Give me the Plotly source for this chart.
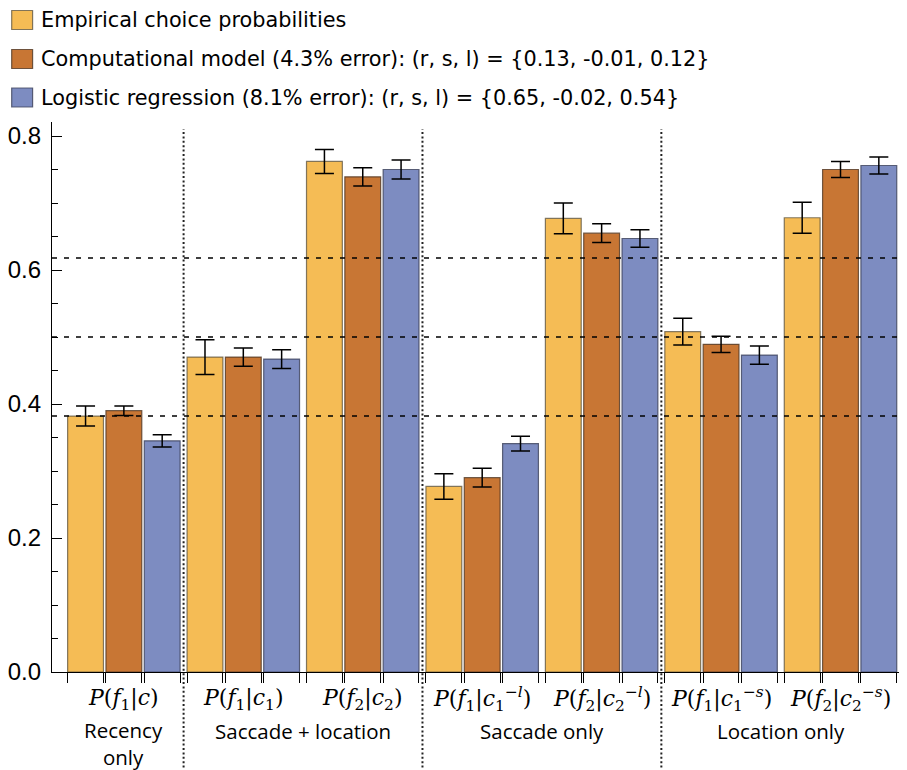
import plotly.graph_objects as go

# ---------------- data ----------------
category_labels = [
    "<i>P</i>(<i>f</i><sub>1</sub>|<i>c</i>)",
    "<i>P</i>(<i>f</i><sub>1</sub>|<i>c</i><sub>1</sub>)",
    "<i>P</i>(<i>f</i><sub>2</sub>|<i>c</i><sub>2</sub>)",
    "<i>P</i>(<i>f</i><sub>1</sub>|<i>c</i><sub>1</sub><sup>−<i>l</i></sup>)",
    "<i>P</i>(<i>f</i><sub>2</sub>|<i>c</i><sub>2</sub><sup>−<i>l</i></sup>)",
    "<i>P</i>(<i>f</i><sub>1</sub>|<i>c</i><sub>1</sub><sup>−<i>s</i></sup>)",
    "<i>P</i>(<i>f</i><sub>2</sub>|<i>c</i><sub>2</sub><sup>−<i>s</i></sup>)",
]
section_names = ["Recency<br>only", "Saccade + location", "Saccade only", "Location only"]
section_sizes = [1, 2, 2, 2]

series_names = [
    "Empirical choice probabilities",
    "Computational model (4.3% error): (r, s, l) = {0.13, -0.01, 0.12}",
    "Logistic regression (8.1% error): (r, s, l) = {0.65, -0.02, 0.54}",
]
empirical = [0.382, 0.470, 0.762, 0.277, 0.677, 0.508, 0.678]
empirical_err = [0.015, 0.026, 0.018, 0.019, 0.023, 0.020, 0.023]
model = [0.390, 0.470, 0.739, 0.290, 0.655, 0.489, 0.750]
model_err = [0.007, 0.0135, 0.0135, 0.014, 0.014, 0.012, 0.012]
logistic = [0.345, 0.467, 0.750, 0.341, 0.647, 0.473, 0.756]
logistic_err = [0.009, 0.014, 0.014, 0.011, 0.013, 0.0137, 0.0127]
reference_levels = [0.382, 0.5, 0.618]

y_ticks = [0.0, 0.2, 0.4, 0.6, 0.8]
colors = ["#F5BC55", "#C87634", "#7D8CC1"]
edge_colors = ["rgba(90,80,60,0.75)", "rgba(80,55,35,0.8)", "rgba(60,65,90,0.8)"]

# ---------------- layout constants ----------------
OFF = 8  # page body margin
W, H = 907 - OFF, 770 - OFF
ML, MR, MT, MB = 40, 0, 114, 98
PW, PH = W - ML - MR, H - MT - MB
BARGAP = 0.0375
BARGROUPGAP = 0.065

xs = list(range(len(category_labels)))
x_range = [-0.6017, 6.5567]
y_range = [0, 0.8209]

def px_x(p):
    return (p - OFF - ML) / PW

def px_y(p):
    return (H - MB - (p - OFF)) / PH

fig = go.Figure()
all_vals = [empirical, model, logistic]
all_errs = [empirical_err, model_err, logistic_err]
for i in range(3):
    fig.add_trace(go.Bar(
        x=xs, y=all_vals[i], name=series_names[i],
        marker=dict(color=colors[i], line=dict(color=edge_colors[i], width=1.2)),
        error_y=dict(type="data", array=all_errs[i], visible=True,
                     color="black", thickness=1.5, width=9.5),
        showlegend=False,
    ))

# tick marks at bar edges
n_series = 3
slot = (1 - BARGAP) / n_series
bar_w = slot * (1 - BARGROUPGAP)
edge_ticks = []
for k in xs:
    for j in range(n_series):
        c = k + (j - (n_series - 1) / 2) * slot
        edge_ticks += [c - bar_w / 2, c + bar_w / 2]

fig.update_layout(
    width=W, height=H,
    margin=dict(l=ML, r=MR, t=MT, b=MB, pad=0),
    paper_bgcolor="white", plot_bgcolor="white",
    barmode="group", bargap=BARGAP, bargroupgap=BARGROUPGAP,
    xaxis=dict(range=x_range, showgrid=False, zeroline=False,
               showline=True, linecolor="black", linewidth=1.2,
               tickmode="array", tickvals=edge_ticks, ticktext=[""] * len(edge_ticks),
               ticks="outside", ticklen=10, tickcolor="black", tickwidth=1,
               showticklabels=False),
    yaxis=dict(range=y_range, showgrid=False, zeroline=False,
               showline=True, linecolor="black", linewidth=1.2,
               tickmode="array", tickvals=y_ticks, ticktext=[f"{v:.1f}" for v in y_ticks],
               ticks="inside", ticklen=10, tickcolor="black", tickwidth=1,
               ticklabelstandoff=5,
               minor=dict(dtick=0.05, ticks="inside", ticklen=6, tickcolor="black", tickwidth=1),
               tickfont=dict(family="Liberation Sans", size=24, color="black")),
    font=dict(family="Open Sans", color="black"),
)

shapes = []
for lv in reference_levels:
    shapes.append(dict(type="line", xref="paper", yref="y", x0=0, x1=1, y0=lv, y1=lv,
                       line=dict(color="black", width=1.4, dash="5px,7px"), layer="above"))
cum = 0
for s in section_sizes[:-1]:
    cum += s
    shapes.append(dict(type="line", xref="x", yref="paper", x0=cum - 0.5, x1=cum - 0.5,
                       y0=px_y(772), y1=px_y(129),
                       line=dict(color="#222", width=2, dash="2px,2.4px"), layer="above"))

annotations = []
for k, lab in zip(xs, category_labels):
    annotations.append(dict(x=k, y=px_y(699), xref="x", yref="paper", text=lab,
                            showarrow=False, yanchor="middle", xanchor="center",
                            font=dict(family="DejaVu Serif", size=22, color="black")))
start = 0
for name, s in zip(section_names, section_sizes):
    center = start + (s - 1) / 2
    n_lines = name.count("<br>") + 1
    annotations.append(dict(x=center, y=px_y(731 + 12.5 * (n_lines - 1)), xref="x", yref="paper",
                            text=name, showarrow=False, yanchor="middle", xanchor="center",
                            font=dict(family="Open Sans", size=20.5, color="black")))
    start += s

# manual legend
row_centers = [20, 59, 97.5]
for i in range(3):
    yc = row_centers[i]
    shapes.append(dict(type="rect", xref="paper", yref="paper",
                       x0=px_x(7.5), x1=px_x(28.5), y0=px_y(yc + 9.5), y1=px_y(yc - 9.5),
                       fillcolor=colors[i], line=dict(color=edge_colors[i], width=1.2)))
    annotations.append(dict(x=px_x(35), y=px_y(yc), xref="paper", yref="paper",
                            text=series_names[i], showarrow=False,
                            xanchor="left", yanchor="middle",
                            font=dict(family="DejaVu Sans", size=20.8, color="black")))

fig.update_layout(shapes=shapes, annotations=annotations)
fig.write_html("out.html")
